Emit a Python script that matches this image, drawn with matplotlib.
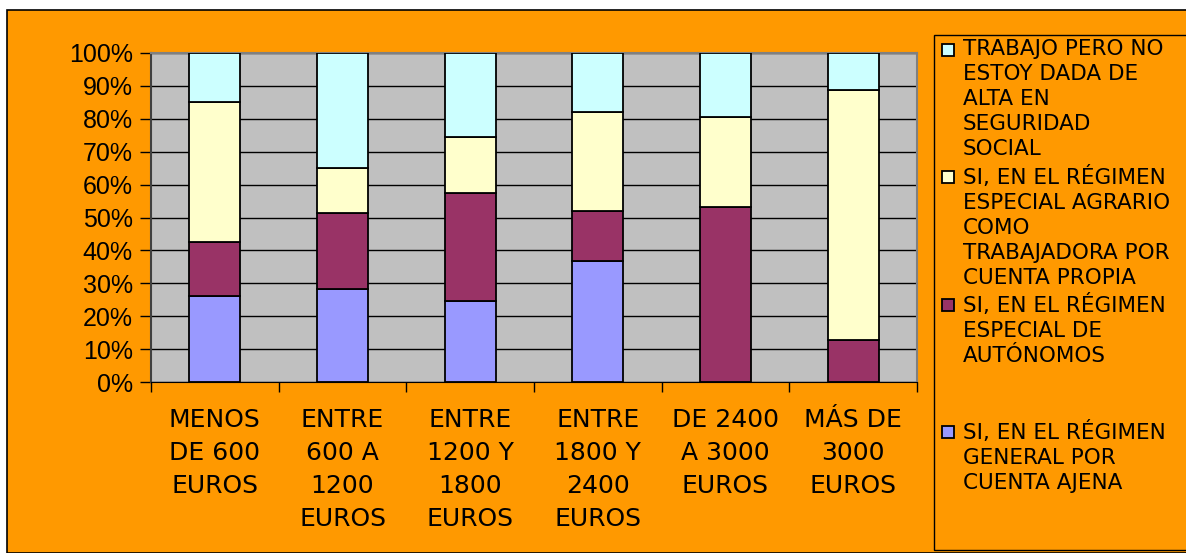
import numpy as np
import matplotlib
matplotlib.use("Agg")
import matplotlib.pyplot as plt
from matplotlib.patches import Rectangle

# data (percent of each income group)
categories = ["MENOS\nDE 600\nEUROS", "ENTRE\n600 A\n1200\nEUROS", "ENTRE\n1200 Y\n1800\nEUROS",
              "ENTRE\n1800 Y\n2400\nEUROS", "DE 2400\nA 3000\nEUROS", "MÁS DE\n3000\nEUROS"]
general_ajena = [26.0, 28.3, 24.7, 36.7, 0.0, 0.0]
autonomos = [16.5, 23.1, 32.6, 15.2, 53.3, 12.9]
agrario = [42.7, 13.6, 17.2, 30.3, 27.1, 75.8]
sin_alta = [14.8, 35.0, 25.5, 17.8, 19.6, 11.3]

series_labels = ["SI, EN EL RÉGIMEN\nGENERAL POR\nCUENTA AJENA",
                 "SI, EN EL RÉGIMEN\nESPECIAL DE\nAUTÓNOMOS",
                 "SI, EN EL RÉGIMEN\nESPECIAL AGRARIO\nCOMO\nTRABAJADORA POR\nCUENTA PROPIA",
                 "TRABAJO PERO NO\nESTOY DADA DE\nALTA EN\nSEGURIDAD\nSOCIAL"]
colors = ["#9999FF", "#993366", "#FFFFCC", "#CCFFFF"]
yticks = np.arange(0, 101, 10)

W, H = 1186, 553
fig = plt.figure(figsize=(W / 100, H / 100), dpi=100)
fig.patch.set_facecolor("white")

# orange chart area with black frame
fig.patches.append(Rectangle((7 / W, 0), 1.2, (H - 10) / H, transform=fig.transFigure,
                             facecolor="#FF9900", edgecolor="black", linewidth=1.2, zorder=-2))

ax = fig.add_axes([151 / W, (H - 382) / H, 766 / W, 329 / H])
ax.set_zorder(1)
ax.set_facecolor("#C0C0C0")

x = np.arange(len(categories))
series = [general_ajena, autonomos, agrario, sin_alta]
bottom = np.zeros(len(categories))
for vals, c in zip(series, colors):
    vals = np.array(vals)
    ax.bar(x, vals, bottom=bottom, width=0.4, color=c, edgecolor="black", linewidth=1.3, zorder=3)
    bottom += vals

ax.set_xlim(-0.5, len(categories) - 0.5)
ax.set_ylim(0, 100)
ax.set_yticks(yticks)
ax.set_yticklabels([f"{v}%" for v in yticks], fontsize=18, family="Liberation Sans")
ax.yaxis.grid(True, color="black", linewidth=1, zorder=1)
ax.set_axisbelow(True)
ax.tick_params(axis="y", length=8, width=1, direction="out", pad=5)

ax.set_xticks(np.arange(-0.5, len(categories), 1))
ax.set_xticklabels([])
ax.tick_params(axis="x", length=7, width=1, direction="out")
for xi, lab in zip(x, categories):
    ax.text(xi, -8.0, lab, ha="center", va="top", fontsize=18, family="DejaVu Sans",
            linespacing=1.47)

for s in ["top", "right"]:
    ax.spines[s].set_color("#808080")
    ax.spines[s].set_linewidth(1.5)
ax.spines["left"].set_color("#404040")
ax.spines["left"].set_linewidth(1.5)
ax.spines["bottom"].set_color("black")

# legend box drawn by hand
fig.patches.append(Rectangle((934 / W, (H - 550) / H), 1.0, 515 / H, transform=fig.transFigure,
                             facecolor="#FF9900", edgecolor="black", linewidth=1.0, zorder=-1))
tops = [425, 298, 170, 43]
for lab, c, t in zip(series_labels, colors, tops):
    fig.patches.append(Rectangle((942 / W, (H - t - 13) / H), 12 / W, 12 / H,
                                 transform=fig.transFigure, facecolor=c,
                                 edgecolor="black", linewidth=1.3, zorder=2))
    fig.text(963 / W, (H - t + 4) / H, lab, ha="left", va="top", fontsize=15.5,
             family="DejaVu Sans", linespacing=1.31, zorder=3)

fig.savefig("out.png", dpi=100)
